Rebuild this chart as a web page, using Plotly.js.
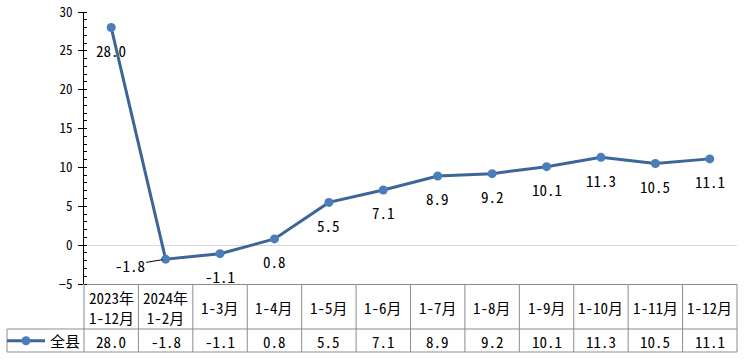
<!DOCTYPE html>
<html>
<head>
<meta charset="utf-8">
<script src="https://cdn.plot.ly/plotly-3.0.1.min.js"></script>
<style>html,body{margin:0;padding:0;background:#fff;}#chart{width:747px;height:363px;}</style>
</head>
<body>
<div id="chart"></div>
<script>
// ---- data ----
var categories = ['2023年1-12月','2024年1-2月','1-3月','1-4月','1-5月','1-6月','1-7月','1-8月','1-9月','1-10月','1-11月','1-12月'];
var headerLabels = ['2023年<br>1-12月','2024年<br>1-2月','1-3月','1-4月','1-5月','1-6月','1-7月','1-8月','1-9月','1-10月','1-11月','1-12月'];
var values = [28.0,-1.8,-1.1,0.8,5.5,7.1,8.9,9.2,10.1,11.3,10.5,11.1];
var seriesName = '全县';

// ---- layout helpers ----
var W = 747, H = 363;
var mL = 84, mR = 10, mT = 12, mB = 79;
var plotH = H - mT - mB, plotW = W - mL - mR;
function py(p){ return (H - mB - p) / plotH; }   // pixel y -> paper y
function px(p){ return (p - mL) / plotW; }       // pixel x -> paper x

var FONT = '"Noto Sans Mono CJK SC", "Noto Sans CJK SC", "DejaVu Sans Mono", monospace';
var gridColor = '#8c8c8c';

var N = categories.length;
var shapes = [];
var yHeadTop = 0, yRow = py(329), yBot = py(352), xLeft = px(7);
for (var i = 0; i <= N; i++) {
  shapes.push({type:'line', xref:'paper', yref:'paper', x0:i/N, x1:i/N, y0:yHeadTop, y1:yBot,
    line:{color:gridColor, width:1}});
}
shapes.push({type:'line', xref:'paper', yref:'paper', x0:xLeft, x1:1, y0:yRow, y1:yRow, line:{color:gridColor, width:1}});
shapes.push({type:'line', xref:'paper', yref:'paper', x0:xLeft, x1:1, y0:yBot, y1:yBot, line:{color:gridColor, width:1}});
shapes.push({type:'line', xref:'paper', yref:'paper', x0:xLeft, x1:xLeft, y0:yRow, y1:yBot, line:{color:gridColor, width:1}});

var annotations = [];
for (var j = 0; j < N; j++) {
  annotations.push({xref:'x', yref:'paper', x:categories[j], y:py(307), yanchor:'middle', xanchor:'center',
    text:headerLabels[j], showarrow:false, font:{family:FONT, size:15, color:'#000'}, align:'center'});
  annotations.push({xref:'x', yref:'paper', x:categories[j], y:py(341), yanchor:'middle', xanchor:'center',
    text:values[j].toFixed(1), showarrow:false, font:{family:FONT, size:15, color:'#000'}});
}
for (var k = 0; k < N; k++) {
  if (k === 1) {
    annotations.push({xref:'x', yref:'y', x:categories[k], y:values[k], text:values[k].toFixed(1),
      showarrow:true, arrowhead:0, arrowwidth:1, arrowcolor:'#000', ax:-36, ay:6, standoff:3,
      font:{family:FONT, size:15, color:'#000'}});
  } else {
    annotations.push({xref:'x', yref:'y', x:categories[k], y:values[k], text:values[k].toFixed(1),
      showarrow:false, yshift:-23, font:{family:FONT, size:15, color:'#000'}});
  }
}

var traces = [{
  type:'scatter', mode:'lines+markers', name:seriesName,
  x:categories, y:values,
  line:{color:'#3d6598', width:3},
  marker:{color:'#4a7ebb', size:9},
  hoverinfo:'skip'
},{
  type:'scatter', mode:'markers', x:[], y:[], yaxis:'y2', showlegend:false, hoverinfo:'skip'
}];

var layout = {
  width:W, height:H,
  margin:{l:mL, r:mR, t:mT, b:mB, pad:0, autoexpand:false},
  paper_bgcolor:'#fff', plot_bgcolor:'#fff',
  font:{family:FONT, size:13, color:'#000'},
  showlegend:true,
  legend:{x:px(2), xanchor:'left', y:py(341), yanchor:'middle', bgcolor:'rgba(0,0,0,0)',
    font:{family:FONT, size:15, color:'#000'}, borderwidth:0, itemwidth:38},
  xaxis:{type:'category', categoryorder:'array', categoryarray:categories, range:[-0.5, N-0.5],
    showticklabels:false, ticks:'', showgrid:false, zeroline:false, automargin:false,
    showline:true, linecolor:gridColor, linewidth:1, fixedrange:true},
  yaxis:{range:[-5,30], dtick:5, tick0:0, ticks:'outside', ticklen:5, tickcolor:'#000', tickwidth:1,
    showline:true, linecolor:'#000', linewidth:1, showgrid:false, automargin:false,
    zeroline:true, zerolinecolor:'#d9d9d9', zerolinewidth:1,
    tickfont:{family:FONT, size:13, color:'#000'}, ticklabelstandoff:3,
    minor:{ticks:'inside', dtick:1, ticklen:3, tickcolor:'#000', tickwidth:1, showgrid:false},
    fixedrange:true},
  yaxis2:{overlaying:'y', side:'left', range:[-5,30], dtick:5, tick0:0, ticks:'inside', ticklen:3, automargin:false,
    tickcolor:'#000', showticklabels:false, showline:false, showgrid:false, zeroline:false, fixedrange:true},
  shapes:shapes,
  annotations:annotations
};

Plotly.newPlot('chart', traces, layout, {displayModeBar:false, staticPlot:true});
</script>
</body>
</html>
